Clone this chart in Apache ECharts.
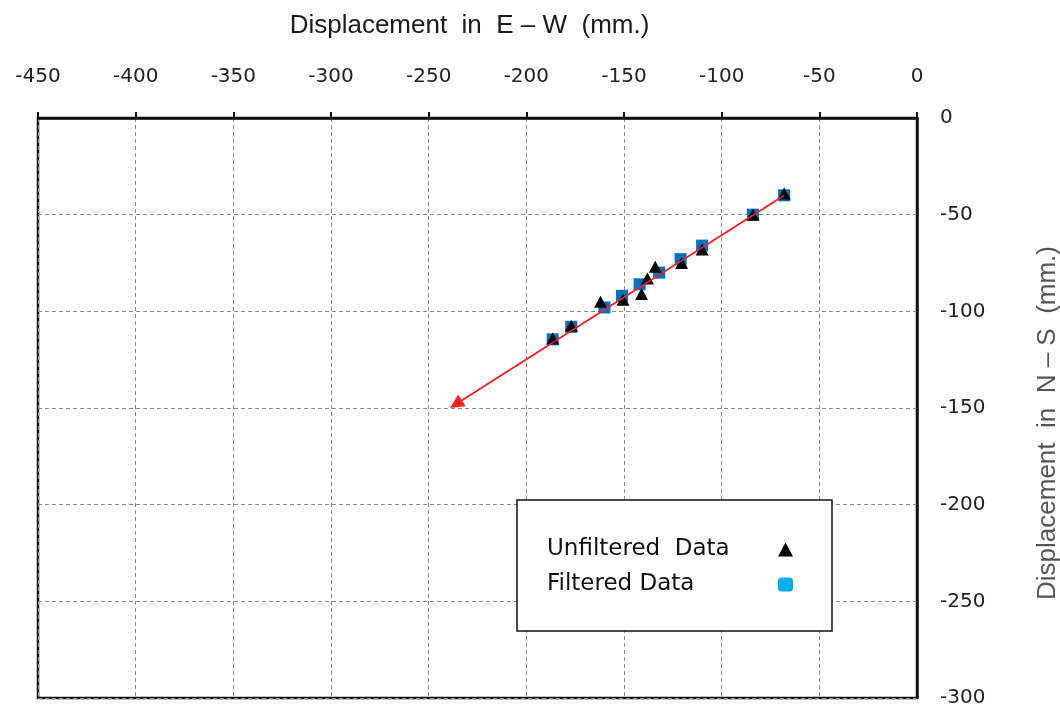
<!DOCTYPE html>
<html>
<head>
<meta charset="utf-8">
<script src="https://cdn.jsdelivr.net/npm/echarts@6/dist/echarts.min.js"></script>
<style>
  html, body { margin: 0; padding: 0; background: #ffffff; }
  #chart { width: 1060px; height: 706px; }
</style>
</head>
<body>
<div id="chart"></div>
<script>
// Displacement readings (mm): E–W on x, N–S on y
const unfilteredEW = [-68, -84, -110, -120.5, -134, -138, -141, -150.5, -162, -177, -186.5];
const unfilteredNS = [-39, -50, -68, -75, -77, -83, -91, -94, -95, -107.5, -114];
const filteredEW = [-68, -84, -110, -121, -132, -142, -151, -160, -177, -186.5];
const filteredNS = [-40, -50, -66, -73, -80, -86, -92, -98, -108, -114.5];
// Trend arrow: start and end of the displacement direction
const trendEW = [-68, -236];
const trendNS = [-40, -148];

const seriesNames = ['Unfiltered  Data', 'Filtered Data'];

const pairs = (xs, ys) => xs.map((x, i) => [x, ys[i]]);

const chart = echarts.init(document.getElementById('chart'), null, { renderer: 'canvas' });

const labelFont = 'DejaVu Sans';

chart.setOption({
  animation: false,
  backgroundColor: '#ffffff',
  grid: {
    left: 38, right: 143, top: 118, bottom: 8,
    outerBoundsMode: 'none',
    containLabel: false,
    show: true,
    borderColor: '#111111',
    borderWidth: 2.5,
    backgroundColor: 'transparent'
  },
  xAxis: {
    type: 'value',
    position: 'top',
    min: -450, max: 0, interval: 50,
    name: 'Displacement  in  E – W  (mm.)',
    nameLocation: 'middle',
    nameGap: 79,
    nameTextStyle: {
      fontFamily: 'Liberation Sans', fontSize: 26, color: '#1a1a1a',
      padding: [0, 16, 0, 0]
    },
    axisLine: { show: true, lineStyle: { color: '#111111', width: 2.5 } },
    axisTick: { show: true, inside: false, length: 6, lineStyle: { color: '#111111', width: 2 } },
    axisLabel: {
      margin: 31, fontFamily: labelFont, fontSize: 20, color: '#222222'
    },
    splitLine: { show: true, lineStyle: { color: '#8a8a8a', width: 1, type: [4, 3] } }
  },
  yAxis: {
    type: 'value',
    position: 'right',
    min: -300, max: 0, interval: 50,
    name: 'Displacement  in  N – S  (mm.)',
    nameLocation: 'middle',
    nameRotate: 90,
    nameGap: 118,
    nameTextStyle: {
      fontFamily: 'Liberation Sans', fontSize: 26, color: '#555555',
      padding: [0, 30, 0, 0]
    },
    axisLine: { show: true, lineStyle: { color: '#111111', width: 2.5 } },
    axisTick: { show: false },
    axisLabel: {
      margin: 23, fontFamily: labelFont, fontSize: 20, color: '#222222'
    },
    splitLine: { show: true, lineStyle: { color: '#8a8a8a', width: 1, type: [4, 3] } }
  },
  legend: {
    orient: 'vertical',
    left: 517, top: 500,
    align: 'right',
    backgroundColor: '#ffffff',
    borderColor: '#111111',
    borderWidth: 1.5,
    padding: [38, 39, 35, 30],
    itemGap: 12,
    itemWidth: 15,
    itemHeight: 14,
    formatter: name => '{t|' + name + '}',
    textStyle: {
      rich: {
        t: { width: 226, lineHeight: 26, align: 'left', fontFamily: 'DejaVu Sans', fontSize: 23, color: '#111111' }
      }
    },
    data: [
      { name: seriesNames[0], icon: 'triangle', itemStyle: { color: '#000000' } },
      { name: seriesNames[1], icon: 'roundRect', itemStyle: { color: '#00b0f0' } }
    ]
  },
  series: [
    {
      name: 'trend',
      type: 'line',
      data: pairs(trendEW, trendNS),
      symbol: 'none',
      lineStyle: { color: '#ff2020', width: 1.5 },
      silent: true,
      z: 2,
      markLine: {
        silent: true,
        symbol: ['none', 'triangle'],
        symbolSize: [14, 14],
        label: { show: false },
        lineStyle: { color: '#ff2020', width: 1.5, type: 'solid' },
        data: [[
          { coord: [trendEW[0], trendNS[0]] },
          { coord: [trendEW[1], trendNS[1]] }
        ]]
      }
    },
    {
      name: seriesNames[1],
      type: 'scatter',
      data: pairs(filteredEW, filteredNS),
      symbol: 'rect',
      symbolSize: 12,
      itemStyle: { color: '#0070c0', opacity: 1 },
      z: 3
    },
    {
      name: seriesNames[0],
      type: 'scatter',
      data: pairs(unfilteredEW, unfilteredNS),
      symbol: 'triangle',
      symbolSize: [13, 12],
      itemStyle: { color: '#000000', opacity: 1 },
      z: 4
    }
  ]
});
</script>
</body>
</html>
